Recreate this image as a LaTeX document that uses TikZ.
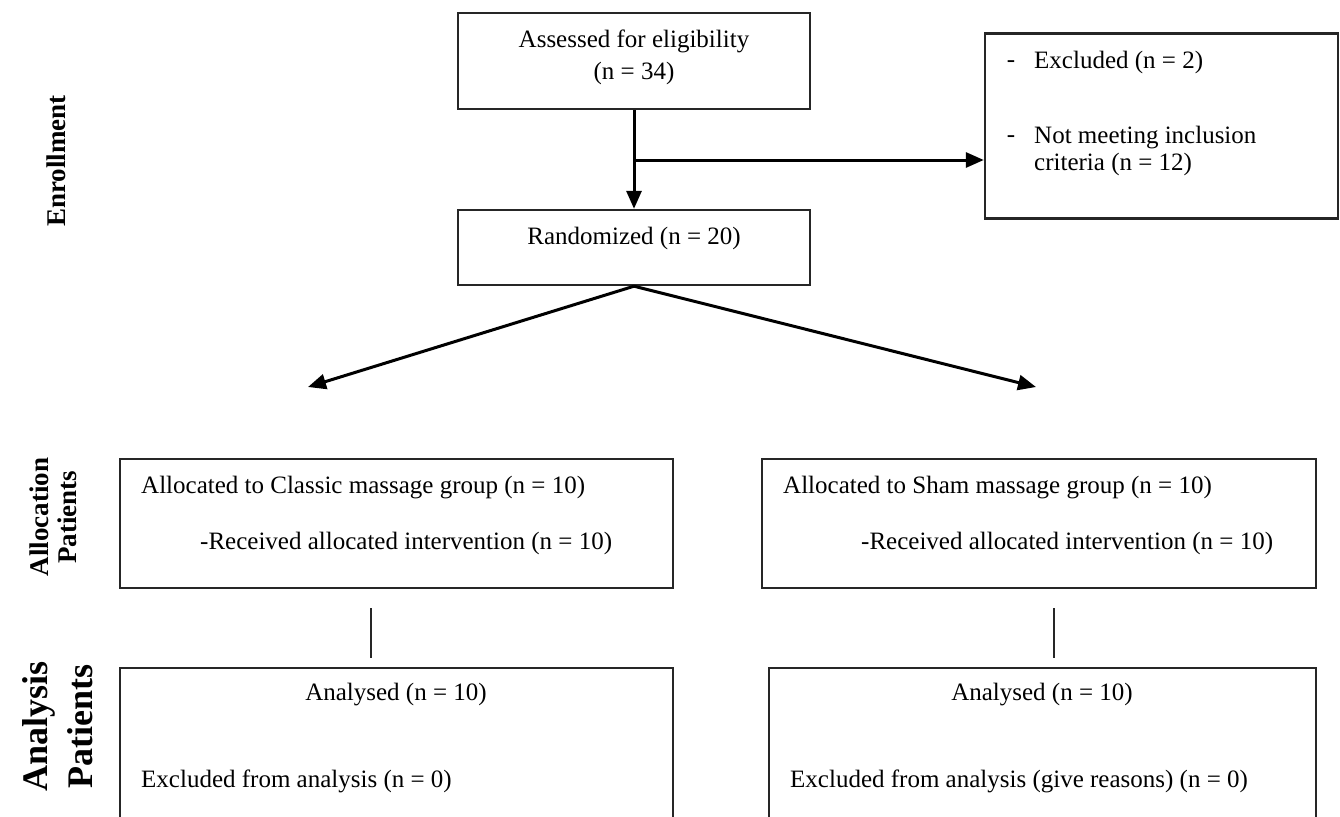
\documentclass[tikz,border=0pt]{standalone}
\usepackage{fontspec}
\setmainfont{Liberation Serif}
\usetikzlibrary{arrows.meta}
\begin{document}
\begin{tikzpicture}[x=1pt,y=-1pt,
  box/.style={draw=black!85,line width=2.4pt,rectangle,inner sep=0pt,minimum width=#1},
  txt/.style={inner sep=0pt,font=\fontsize{25}{32}\selectfont},
  lab/.style={inner sep=0pt,rotate=90,align=center},
  arr/.style={line width=3pt,-{Triangle[length=18pt,width=15pt]}},
  conn/.style={line width=1.5pt,black!85}]
\useasboundingbox (0,0) rectangle (1340,816);
\clip (0,0) rectangle (1340,816);
% boxes
\node[box=352pt,minimum height=96pt] (assess) at (634,61) {};
\node[box=352pt,minimum height=75pt] (rand) at (634,247.5) {};
\node[box=353pt,minimum height=185pt] (excl) at (1161.5,126) {};
\node[box=553pt,minimum height=129pt] (allocL) at (396.5,523.5) {};
\node[box=554pt,minimum height=129pt] (allocR) at (1039,523.5) {};
\node[box=553pt,minimum height=172pt] (anaL) at (396.5,754) {};
\node[box=547pt,minimum height=172pt] (anaR) at (1042.5,754) {};
% texts
\node[txt,align=center] (tassess) at (634,57) {Assessed for eligibility\\(n = 34)};
\node[txt] (trand) at (634,238) {Randomized (n = 20)};
\node[txt] (d1) at (1011,64) {-};
\node[txt,anchor=west] (texcl) at (1034,62) {Excluded (n = 2)};
\node[txt] (d2) at (1011,139) {-};
\node[txt,anchor=west,align=left,font=\fontsize{25}{27}\selectfont] (tnot) at (1034,151) {Not meeting inclusion\\criteria (n = 12)};
\node[txt,anchor=west] (tal1) at (141,488) {Allocated to Classic massage group (n = 10)};
\node[txt,anchor=west] (tal2) at (200,543) {-Received allocated intervention (n = 10)};
\node[txt,anchor=west] (tar1) at (783,488) {Allocated to Sham massage group (n = 10)};
\node[txt,anchor=west] (tar2) at (861,543) {-Received allocated intervention (n = 10)};
\node[txt] (tanl) at (396,695) {Analysed (n = 10)};
\node[txt] (tanr) at (1042,695) {Analysed (n = 10)};
\node[txt,anchor=west] (texl) at (141,781) {Excluded from analysis (n = 0)};
\node[txt,anchor=west] (texr) at (790,781) {Excluded from analysis (give reasons) (n = 0)};
% side labels
\node[lab,font=\fontsize{27}{28}\bfseries] (lenr) at (56,161) {Enrollment};
\node[lab,font=\fontsize{27}{28}\bfseries] (lall) at (53,517) {Allocation\\Patients};
\node[lab,font=\fontsize{36}{45}\bfseries] (lana) at (58,726) {Analysis\\Patients};
% connectors
\coordinate (br) at (635,160);
\coordinate (tipL) at (308,387);
\coordinate (tipR) at (1036,387);
\coordinate (cl1) at (371,608);
\coordinate (cl2) at (371,658);
\coordinate (cr1) at (1054,608);
\coordinate (cr2) at (1054,658);
\draw[arr] (assess.south) -- (rand.north);
\draw[arr] (br) -- (br -| excl.west);
\draw[arr] (rand.south) -- (tipL);
\draw[arr] (rand.south) -- (tipR);
\draw[conn] (cl1) -- (cl2);
\draw[conn] (cr1) -- (cr2);
\end{tikzpicture}
\end{document}
